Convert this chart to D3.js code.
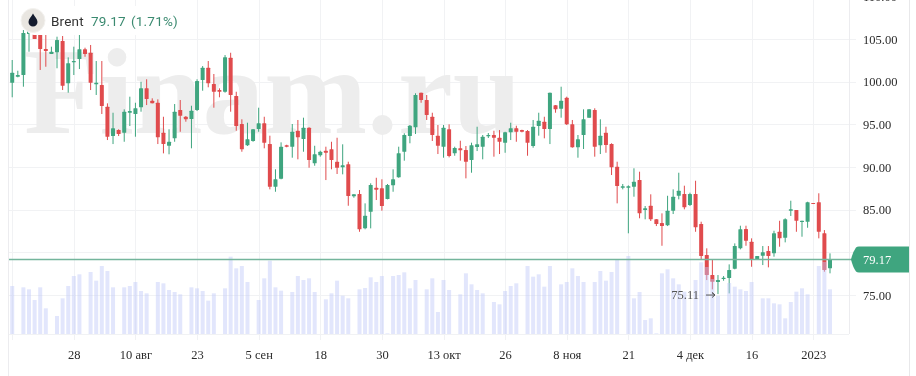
<!DOCTYPE html>
<html>
<head>
<meta charset="utf-8">
<script src="https://cdn.jsdelivr.net/npm/d3@7"></script>
<style>
  html, body { margin: 0; background: #fff; overflow: hidden; }
  svg { display: block; filter: blur(0.3px); }
  text.tick-label { font-family: "Liberation Serif", serif; font-size: 12.5px; fill: #2b2b2b; }
</style>
</head>
<body>
<div id="container"></div>
<script>
/* DATA */
const opens = [
  99.88,100.58,100.78,105.59,106.29,105.70,103.83,103.24,103.44,104.76,
  99.81,102.27,102.66,103.79,103.39,99.69,99.61,97.07,93.63,94.33,
  94.01,96.36,96.21,97.00,99.22,97.77,97.53,94.01,92.49,93.36,
  96.68,95.89,95.62,96.68,100.19,101.64,99.73,99.02,98.82,102.81,
  98.32,95.04,92.54,93.05,94.45,95.12,92.69,87.69,88.63,92.54,
  92.38,94.25,93.28,94.60,90.43,91.37,91.91,92.07,90.62,89.96,
  90.31,86.56,86.83,82.81,84.76,87.57,87.50,86.25,87.85,88.79,
  91.79,93.63,94.65,98.71,97.85,95.89,93.67,92.38,94.42,91.60,
  92.19,91.99,90.82,92.34,92.38,93.60,93.75,93.43,92.85,94.06,
  94.53,94.33,94.22,92.46,94.80,95.31,94.45,97.23,96.83,98.12,
  95.00,92.31,93.75,95.78,96.68,92.54,94.01,92.69,90.03,87.57,
  87.57,87.69,88.47,84.96,85.46,83.87,83.43,83.16,84.88,86.63,
  86.83,85.54,86.83,83.32,79.68,77.34,76.52,76.87,76.99,78.08,
  80.47,82.73,81.24,79.13,79.60,80.15,79.88,82.41,81.71,84.88,
  84.96,83.55,83.59,85.78,85.86,82.23,78.13
]
const highs = [
  102.54,101.28,106.05,106.29,106.64,106.05,105.47,104.10,105.27,105.35,
  102.85,104.10,105.47,103.98,104.30,102.42,102.42,97.46,96.36,94.42,
  96.76,98.24,97.53,99.99,100.28,98.05,97.93,95.89,94.42,97.38,
  97.85,95.97,97.18,100.28,101.83,102.42,100.90,99.22,103.12,103.39,
  98.82,95.59,95.19,94.45,96.95,95.89,93.67,89.73,92.89,92.61,
  95.04,95.51,95.78,94.65,92.49,91.91,92.38,92.96,93.43,92.66,
  90.62,86.80,87.30,85.74,88.09,88.74,88.56,88.01,89.73,92.38,
  93.95,94.92,98.64,98.71,98.44,96.36,94.92,94.92,95.00,92.38,
  93.08,92.46,92.85,94.72,93.75,93.98,94.25,94.33,94.13,95.19,
  94.84,94.37,94.33,95.51,96.36,95.89,98.71,97.26,99.41,98.24,
  95.51,93.75,96.76,96.76,96.88,95.59,94.72,92.78,90.62,88.01,
  87.85,89.85,89.45,85.43,86.80,83.90,84.57,86.63,87.38,89.33,
  87.81,86.99,88.39,83.59,80.47,79.10,77.34,77.22,78.59,81.05,
  83.12,83.12,81.64,79.57,80.74,80.74,82.53,83.70,83.99,86.05,
  84.96,83.70,85.93,85.78,86.92,82.61,79.88
]
const lows = [
  98.17,100.51,99.41,103.51,105.00,101.37,101.75,103.24,101.57,99.02,
  98.71,100.78,101.48,102.92,99.02,98.44,96.21,93.16,92.69,93.63,
  92.96,94.80,93.55,96.48,97.26,97.46,92.69,91.60,91.49,92.96,
  94.13,95.31,92.19,96.56,98.94,99.34,96.95,98.17,98.71,96.48,
  94.25,91.79,92.46,92.96,94.13,92.19,87.38,87.10,88.56,92.31,
  91.09,90.90,91.79,89.92,90.15,91.21,88.47,89.73,89.18,89.14,
  85.46,86.40,82.41,82.70,82.81,86.13,84.88,86.21,87.10,88.74,
  90.74,92.78,93.87,97.53,95.51,93.05,91.52,91.09,91.13,91.32,
  90.74,88.67,89.33,91.87,90.90,93.40,91.21,91.52,91.67,93.16,
  92.96,94.06,91.32,92.26,93.67,93.36,92.69,96.36,95.78,94.92,
  92.26,91.09,92.11,95.78,91.21,91.52,91.67,89.06,85.74,87.38,
  82.23,86.52,83.99,83.87,83.67,83.08,80.77,83.08,84.49,86.21,
  85.04,85.43,82.41,79.10,76.75,75.66,75.11,76.67,75.19,78.01,
  80.35,80.77,78.31,79.13,78.51,78.24,79.49,80.66,81.17,84.26,
  82.41,81.83,82.88,85.66,81.64,77.73,77.54
]
const closes = [
  101.05,100.78,105.70,106.05,105.00,103.83,103.59,103.51,104.88,99.53,
  102.15,102.42,103.79,103.24,99.88,99.88,97.15,93.55,94.53,93.87,
  96.48,96.56,96.88,99.22,97.97,97.46,93.48,92.69,92.96,96.48,
  96.01,95.59,96.60,100.08,101.64,99.81,98.82,98.82,102.85,98.44,
  94.80,92.07,93.24,94.42,95.12,92.85,87.69,88.56,92.38,92.38,
  94.13,93.48,94.60,90.82,91.49,91.79,91.67,90.82,89.92,90.20,
  86.60,86.80,82.70,84.29,87.89,87.34,85.43,87.89,88.56,91.60,
  93.75,94.84,98.44,97.85,96.09,93.75,92.49,94.60,91.29,92.22,
  91.95,90.62,92.54,92.66,93.55,93.75,93.43,92.96,94.06,94.53,
  94.13,94.13,92.85,94.72,95.42,94.45,98.71,96.76,97.77,95.00,
  92.31,93.24,95.59,96.76,92.38,93.67,92.58,89.96,87.77,87.73,
  87.73,88.27,84.57,85.16,83.87,83.32,83.08,84.88,86.52,87.22,
  85.27,86.83,82.93,79.57,77.34,76.55,76.75,77.02,77.93,80.74,
  82.70,81.36,79.10,79.57,80.00,79.57,82.23,81.64,83.87,85.04,
  83.70,83.70,85.86,85.66,82.41,77.93,79.17
]
const volumes = [
  144,0,140,134,102,140,77,0,54,107,
  144,174,179,0,186,160,204,189,140,0,
  140,144,156,129,122,0,156,152,132,126,
  119,0,140,137,129,100,122,0,137,232,
  197,204,156,0,102,167,220,140,130,0,
  126,174,162,167,126,0,104,122,160,115,
  107,0,134,138,170,156,174,2,174,177,
  185,137,162,0,134,167,66,162,132,0,
  119,182,149,132,122,0,96,89,129,144,
  152,0,204,172,179,142,204,0,149,156,
  197,174,156,0,156,189,160,186,222,0,
  234,107,126,42,47,2,182,194,167,149,
  127,0,162,215,201,165,115,0,153,142,
  134,129,156,0,107,107,92,89,47,96,
  127,137,119,0,204,216,134
]
const tickBars = [11, 22, 33, 44, 55, 66, 77, 88, 99, 110, 121, 132, 143]
const tickLabels = ["28", "10 авг", "23", "5 сен", "18", "30", "13 окт", "26", "8 ноя", "21", "4 дек", "16", "2023"]
const priceTicks = [75, 85, 90, 95, 100, 105, 110]
const gridPrices = [75, 80, 85, 90, 95, 100, 105]
const lastPrice = 79.17
const lowPrice = 75.11
const lowBar = 126

/* CONSTANTS AND GLOBALS */
const width = 916, height = 376
const plot = { left: 9, right: 849, bottom: 334 }
const colors = { up: "#3fa57f", down: "#e04b4d", grid: "#f1f2f4", vol: "rgba(190,200,248,0.45)", line: "#74b59c" }

const svg = d3.select("#container").append("svg")
  .attr("width", width)
  .attr("height", height)

/* SCALES */
const xScale = d3.scaleLinear().domain([0, 146]).range([12.2, 830])
const yScale = d3.scaleLinear().domain([75, 105]).range([295, 39])
const volScale = d3.scaleLinear().domain([0, 252]).range([plot.bottom, 250])

// borders and grid
const grid = svg.append("g").attr("stroke", colors.grid).attr("fill", "none")
grid.selectAll(".h").data(gridPrices).join("line")
  .attr("x1", plot.left).attr("x2", 856)
  .attr("y1", d => Math.round(yScale(d)) + 0.5).attr("y2", d => Math.round(yScale(d)) + 0.5)
grid.selectAll(".v").data([0].concat(tickBars)).join("line")
  .attr("x1", d => Math.round(xScale(d)) + 0.5).attr("x2", d => Math.round(xScale(d)) + 0.5)
  .attr("y1", 0).attr("y2", 340)
grid.append("line").attr("x1", plot.left).attr("x2", plot.right).attr("y1", plot.bottom + 0.5).attr("y2", plot.bottom + 0.5)
grid.append("line").attr("x1", 8.5).attr("x2", 8.5).attr("y1", 0).attr("y2", height).attr("stroke", "#ececef")
grid.append("line").attr("x1", plot.right + 0.5).attr("x2", plot.right + 0.5).attr("y1", 0).attr("y2", plot.bottom).attr("stroke", "#ececef")
grid.append("line").attr("x1", 909.5).attr("x2", 909.5).attr("y1", 0).attr("y2", height).attr("stroke", "#e8e8ea")

// watermark
svg.append("text")
  .attr("x", 24).attr("y", 133)
  .attr("font-family", "Liberation Serif").attr("font-weight", "bold").attr("font-size", 123.5)
  .attr("fill", "#ededed")
  .text("Finam.ru")

// candles
const bars = d3.range(opens.length)
const candle = svg.append("g").selectAll("g").data(bars).join("g")
  .attr("fill", i => closes[i] >= opens[i] ? colors.up : colors.down)
candle.append("rect")
  .attr("x", i => xScale(i) - 0.5).attr("width", 1)
  .attr("y", i => yScale(highs[i]))
  .attr("height", i => yScale(lows[i]) - yScale(highs[i]))
candle.append("rect")
  .attr("x", i => xScale(i) - 2).attr("width", 4).attr("rx", 0.5)
  .attr("y", i => yScale(Math.max(opens[i], closes[i])))
  .attr("height", i => Math.max(1, Math.abs(yScale(opens[i]) - yScale(closes[i]))))

// volume sits over the candles
svg.append("g").selectAll("rect").data(bars.filter(i => volumes[i] > 0)).join("rect")
  .attr("x", i => xScale(i) - 2).attr("width", 4)
  .attr("y", i => volScale(volumes[i]))
  .attr("height", i => volScale(0) - volScale(volumes[i]))
  .attr("fill", colors.vol)

// last price line
svg.append("line")
  .attr("x1", plot.left).attr("x2", 853)
  .attr("y1", yScale(lastPrice)).attr("y2", yScale(lastPrice))
  .attr("stroke", colors.line).attr("stroke-width", 1.5)

/* AXES */
const xAxis = d3.axisBottom(xScale)
  .tickValues(tickBars)
  .tickSize(0)
  .tickPadding(0)
  .tickFormat((d, i) => tickLabels[i])
svg.append("g")
  .attr("transform", "translate(0,350)")
  .call(xAxis)
  .call(g => g.select(".domain").remove())
  .selectAll("text").attr("class", "tick-label")

const yAxis = d3.axisRight(yScale)
  .tickValues(priceTicks)
  .tickSize(0)
  .tickPadding(0)
  .tickFormat(d => d.toFixed(2))
svg.append("g")
  .attr("transform", "translate(863,0)")
  .call(yAxis)
  .call(g => g.select(".domain").remove())
  .selectAll("text").attr("class", "tick-label")

// last price tag
const tagY = yScale(lastPrice)
svg.append("path")
  .attr("d", `M851,${tagY} Q853,${tagY - 8} 856,${tagY - 12} Q857,${tagY - 13} 859,${tagY - 13} H909 V${tagY + 13} H859 Q857,${tagY + 13} 856,${tagY + 12} Q853,${tagY + 8} 851,${tagY} Z`)
  .attr("fill", colors.up)
svg.append("text")
  .attr("x", 863).attr("y", tagY + 4.5)
  .attr("font-family", "Liberation Serif").attr("font-size", 12.5)
  .attr("fill", "#fff")
  .text(lastPrice.toFixed(2))

// lowest price marker
svg.append("text")
  .attr("x", xScale(lowBar) - 19).attr("y", yScale(lowPrice) + 5)
  .attr("text-anchor", "end")
  .attr("font-family", "Liberation Serif").attr("font-size", 12.5)
  .attr("fill", "#555")
  .text(lowPrice.toFixed(2))
svg.append("path")
  .attr("d", d3.line()([
    [xScale(lowBar) - 12, yScale(lowPrice) + 1], [xScale(lowBar) - 3, yScale(lowPrice) + 1],
    [xScale(lowBar) - 6, yScale(lowPrice) - 1.5], [xScale(lowBar) - 3, yScale(lowPrice) + 1],
    [xScale(lowBar) - 6, yScale(lowPrice) + 3.5]
  ]))
  .attr("fill", "none").attr("stroke", "#555").attr("stroke-width", 1)

/* LEGEND */
svg.append("rect")
  .attr("x", 26).attr("y", 6).attr("width", 156).attr("height", 29)
  .attr("rx", 8)
  .attr("fill", "#fff")
svg.append("circle")
  .attr("cx", 33).attr("cy", 20.5).attr("r", 12)
  .attr("fill", "#e9e6e1").attr("stroke", "#f3f2ef")
svg.append("path")
  .attr("d", "M33,13.5 C34.5,16.5 37.5,19 37.5,22 A4.5,4.5 0 0 1 28.5,22 C28.5,19 31.5,16.5 33,13.5 Z")
  .attr("fill", "#141b2e")
const legendText = [
  { x: 51, fill: "#333", label: "Brent" },
  { x: 91, fill: "#3b8a70", label: lastPrice.toFixed(2) },
  { x: 131, fill: "#3b8a70", label: "(1.71%)" }
]
svg.append("g").selectAll("text").data(legendText).join("text")
  .attr("x", d => d.x).attr("y", 26)
  .attr("font-family", "Roboto").attr("font-size", 13.5)
  .attr("letter-spacing", 0.2)
  .attr("fill", d => d.fill)
  .text(d => d.label)
</script>
</body>
</html>
